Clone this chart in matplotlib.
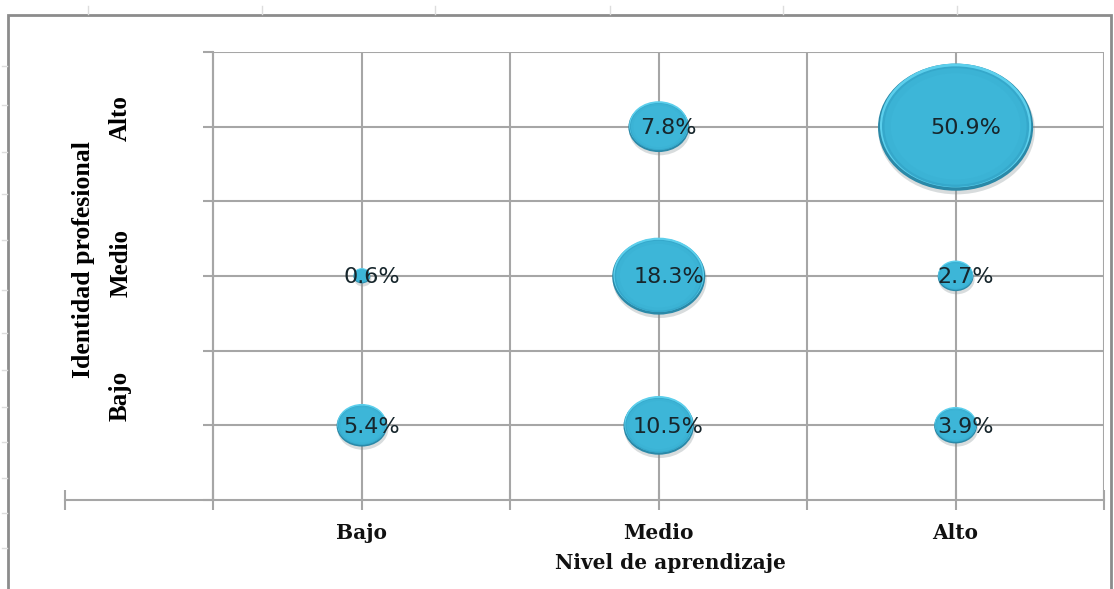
import numpy as np
import matplotlib
matplotlib.use("Agg")
import matplotlib.pyplot as plt
from matplotlib.path import Path
from matplotlib.markers import MarkerStyle
from matplotlib.transforms import Affine2D, offset_copy
from matplotlib.patches import Rectangle
from matplotlib.lines import Line2D

# datos: nivel de aprendizaje (x) vs identidad profesional (y)
niveles = ["Bajo", "Medio", "Alto"]
aprendizaje = [1, 1, 2, 2, 2, 3, 3, 3]
identidad = [1, 2, 1, 2, 3, 1, 2, 3]
porcentaje = [5.4, 0.6, 10.5, 18.3, 7.8, 3.9, 2.7, 50.9]

serif = "Liberation Serif"
serif_ancha = "DejaVu Serif"
sans = "DejaVu Sans"
grid_color = "#A6A6A6"

fig = plt.figure(figsize=(11.14, 5.89), dpi=100)
ax = fig.add_axes([65 / 1114, 89 / 589, 1039 / 1114, 448 / 589])
ax.set_xlim(0, 3.5)
ax.set_ylim(0.5, 3.5)

# marco exterior del grafico (estilo Excel)
fig.patches.append(Rectangle((8 / 1114, -0.02), 1103 / 1114, (574 + 12) / 589,
                             transform=fig.transFigure, fill=False,
                             edgecolor="#8C8C8C", linewidth=2))
# celdas de la hoja de calculo detras
for xp in [88, 262, 435, 610, 783, 957]:
    fig.lines.append(Line2D([xp / 1114] * 2, [1 - 6 / 589, 1 - 14 / 589],
                            transform=fig.transFigure, color="#DDDDDD", lw=1))
for yp in [66, 105, 152, 194, 240, 290, 333, 370, 407, 442, 478, 513, 548]:
    fig.lines.append(Line2D([2 / 1114, 7 / 1114], [1 - yp / 589] * 2,
                            transform=fig.transFigure, color="#DDDDDD", lw=1))

# rejilla
xg = np.arange(0.5, 3.51, 0.5)
yg = np.arange(0.5, 3.51, 0.5)
ax.vlines(xg, 0.5, 3.5, color=grid_color, lw=1.5, zorder=1)
ax.hlines(yg[1:], 0.5, 3.5, color=grid_color, lw=1.5, zorder=1)

for s in ["top", "right"]:
    ax.spines[s].set_visible(False)
ax.spines["left"].set_position(("data", 0.5))
ax.spines["left"].set_color(grid_color)
ax.spines["left"].set_linewidth(1.5)
ax.spines["bottom"].set_color(grid_color)
ax.spines["bottom"].set_linewidth(1.5)

ax.set_xticks(np.arange(0, 3.51, 0.5))
ax.set_xticklabels(["", "", "Bajo", "", "Medio", "", "Alto", ""])
ax.tick_params(axis="x", direction="inout", length=15, width=1.5, color=grid_color,
               pad=9)
for lab in ax.get_xticklabels():
    lab.set_fontfamily(serif_ancha)
    lab.set_fontweight("bold")
    lab.set_fontsize(14.5)
    lab.set_color("#111111")
ax.set_yticks(yg)
ax.set_yticklabels([])
ax.tick_params(axis="y", direction="out", length=7, width=1.5, color=grid_color)

# burbujas elipticas (area proporcional al porcentaje)
elipse = Path.unit_circle().transformed(Affine2D().scale(1.22, 1.0))
marca = MarkerStyle(elipse)
escala = 245
tam = np.array(porcentaje) * escala


def capa(f, color, dy=0.0, alpha=1.0, z=3, dx=0.0):
    tr = offset_copy(ax.transData, fig=fig, x=dx, y=dy, units="dots")
    ax.scatter(aprendizaje, identidad, s=tam * f, marker=marca, color=color,
               alpha=alpha, linewidths=0, transform=tr, zorder=z)


capa(1.02, "#7F8C90", dy=-3.5, dx=1.0, alpha=0.3, z=2)   # sombra
capa(1.0, "#2A89A8", dy=-0.5, z=3)                       # borde oscuro
capa(0.95, "#5CCFEC", dy=1.2, z=4)                       # brillo superior
capa(0.90, "#35A8CB", dy=0.0, z=5)
capa(0.84, "#3BB3D5", dy=0.3, z=6)
capa(0.70, "#3DB6D8", dy=0.3, z=7)

for xv, yv, p in zip(aprendizaje, identidad, porcentaje):
    ax.annotate(f"{p}%", (xv, yv), xytext=(7, -1), textcoords="offset points",
                ha="center", va="center", fontsize=16, family=sans,
                color="#17262C", zorder=10)

# etiquetas del eje y (cuadros de texto)
etiqueta_y = {"Alto": (0.185, 3.057), "Medio": (0.19, 2.09), "Bajo": (0.185, 1.196)}
for t, (xp, yp) in etiqueta_y.items():
    ax.text(xp, yp, t, rotation=90, ha="center", va="center", family=serif,
            fontweight="bold", fontsize=18)
ax.text(0.064, 2.113, "Identidad profesional", rotation=90, ha="center",
        va="center", family=serif, fontweight="bold", fontsize=18.5)

ax.text(2.04, -0.14, "Nivel de aprendizaje", transform=ax.get_xaxis_transform(),
        ha="center", va="center", family=serif_ancha, fontweight="bold",
        fontsize=14.5, color="#111111")

fig.savefig("out.png", dpi=100)
